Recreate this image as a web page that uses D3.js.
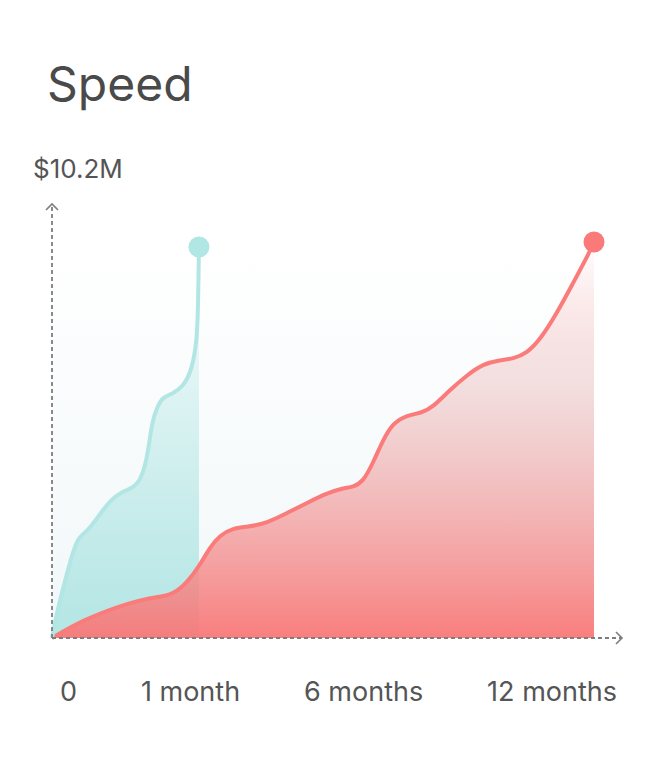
<!DOCTYPE html>
<html>
<head>
<meta charset="utf-8">
<script src="https://cdn.jsdelivr.net/npm/d3@7"></script>
<style>
  html, body { margin: 0; padding: 0; background: #fff; }
  svg { display: block; font-family: Inter, "Noto Sans", sans-serif; }
</style>
</head>
<body>
<svg id="chart" width="654" height="764"></svg>
<script>
// values in $M, x in weeks since start
const redWeeks = [0, 2.97, 6.24, 8.73, 10.36, 11.61, 12.95, 14.2, 15.16, 16.12, 17.37, 18.71, 20.63, 22.55, 24.47, 26.39, 27.92, 28.88, 29.84, 30.8, 31.76, 32.72, 34.06, 35.5, 36.55, 38.18, 39.82, 41.35, 42.98, 44.23, 45.57, 46.82, 48.45, 49.99, 51.33, 52];
const redValues = [0, 0.46, 0.8, 1.0, 1.06, 1.13, 1.42, 1.88, 2.34, 2.65, 2.83, 2.86, 2.96, 3.22, 3.48, 3.73, 3.86, 3.89, 4.02, 4.51, 5.1, 5.54, 5.74, 5.8, 5.95, 6.39, 6.77, 7.06, 7.16, 7.19, 7.34, 7.68, 8.37, 9.14, 9.81, 10.2];
const tealWeeks = [0, 0.38, 0.77, 1.44, 2.02, 2.49, 2.97, 3.45, 4.13, 4.89, 5.85, 6.72, 7.48, 7.96, 8.44, 8.92, 9.31, 9.59, 10.07, 10.65, 11.51, 12.57, 13.43, 13.91, 14.01, 14.08, 14.1];
const tealValues = [0, 0.52, 0.98, 1.67, 2.22, 2.55, 2.68, 2.78, 3.01, 3.3, 3.61, 3.76, 3.84, 3.92, 4.07, 4.4, 4.97, 5.54, 5.95, 6.21, 6.28, 6.47, 6.9, 7.68, 8.53, 9.74, 10.07];
const xLabels = ['0', '1 month', '6 months', '12 months'];
const title = 'Speed';
const maxValue = 10.2;

const svg = d3.select('#chart');
const margin = { top: 242, right: 60, bottom: 126, left: 52 };
const width = +svg.attr('width');
const height = +svg.attr('height');

const x = d3.scaleLinear()
  .domain([0, 52])
  .range([margin.left, width - margin.right]);
const y = d3.scaleLinear()
  .domain([0, maxValue])
  .range([height - margin.bottom, margin.top]);

const red = redWeeks.map((w, i) => ({ w, v: redValues[i] }));
const teal = tealWeeks.map((w, i) => ({ w, v: tealValues[i] }));

const defs = svg.append('defs');
function grad(id, stops) {
  const g = defs.append('linearGradient')
    .attr('id', id)
    .attr('x1', 0).attr('y1', 0).attr('x2', 0).attr('y2', 1);
  stops.forEach(s => g.append('stop')
    .attr('offset', s[0])
    .attr('stop-color', s[1])
    .attr('stop-opacity', s[2]));
}
grad('bgGrad', [[0, '#ffffff', 1], [1, '#f1f7f9', 1]]);
grad('redGrad', [[0, '#fb7b7b', 0], [0.35, '#e9b7b7', 0.45], [1, '#fa7575', 1]]);
grad('tealGrad', [[0, '#b3e6e4', 0.05], [1, '#b3e6e4', 1]]);

// backdrop
svg.append('rect')
  .attr('x', x(0))
  .attr('y', y(maxValue) + 6)
  .attr('width', x(52) - x(0))
  .attr('height', y(0) - y(maxValue) - 6)
  .attr('fill', 'url(#bgGrad)');

const curve = d3.curveBasis;
const area = d3.area()
  .x(d => x(d.w))
  .y0(y(0))
  .y1(d => y(d.v))
  .curve(curve);
const line = d3.line()
  .x(d => x(d.w))
  .y(d => y(d.v))
  .curve(curve);

svg.append('path')
  .datum(teal)
  .attr('d', area)
  .attr('fill', 'url(#tealGrad)');

svg.append('path')
  .datum(red)
  .attr('d', area)
  .attr('fill', 'url(#redGrad)')
  .attr('fill-opacity', 0.93);

svg.append('path')
  .datum(red)
  .attr('d', line)
  .attr('fill', 'none')
  .attr('stroke', '#fb7b7b')
  .attr('stroke-width', 4)
  .attr('stroke-linejoin', 'round');

svg.append('path')
  .datum(teal)
  .attr('d', line)
  .attr('fill', 'none')
  .attr('stroke', '#b2e6e4')
  .attr('stroke-width', 4)
  .attr('stroke-linejoin', 'round');

// axes
const axisColor = '#7d7d7d';
svg.append('line')
  .attr('x1', x(0)).attr('x2', x(0))
  .attr('y1', y(0)).attr('y2', y(maxValue) - 38)
  .attr('stroke', axisColor)
  .attr('stroke-width', 1.8)
  .attr('stroke-dasharray', '4,3');
svg.append('path')
  .attr('d', `M${x(0) - 6},${y(maxValue) - 32}L${x(0)},${y(maxValue) - 38}L${x(0) + 6},${y(maxValue) - 32}`)
  .attr('fill', 'none')
  .attr('stroke', axisColor)
  .attr('stroke-width', 1.6);

svg.append('line')
  .attr('x1', x(0)).attr('x2', x(52) + 28)
  .attr('y1', y(0)).attr('y2', y(0))
  .attr('stroke', axisColor)
  .attr('stroke-width', 1.8)
  .attr('stroke-dasharray', '4,3');
svg.append('path')
  .attr('d', `M${x(52) + 22},${y(0) - 6}L${x(52) + 28},${y(0)}L${x(52) + 22},${y(0) + 6}`)
  .attr('fill', 'none')
  .attr('stroke', axisColor)
  .attr('stroke-width', 1.6);

// end dots
svg.append('circle')
  .attr('cx', x(tealWeeks[tealWeeks.length - 1]))
  .attr('cy', y(tealValues[tealValues.length - 1]))
  .attr('r', 10.5)
  .attr('fill', '#b0e6e4');
svg.append('circle')
  .attr('cx', x(redWeeks[redWeeks.length - 1]))
  .attr('cy', y(redValues[redValues.length - 1]))
  .attr('r', 10.5)
  .attr('fill', '#fa7a7a');

// texts
svg.append('text')
  .attr('x', 47)
  .attr('y', 101)
  .attr('fill', '#4a4a4a')
  .style('font-size', '48px')
  .text(title);

svg.append('text')
  .attr('x', 33)
  .attr('y', 178)
  .attr('fill', '#555')
  .style('font-size', '26px')
  .text('$' + d3.format('.1f')(maxValue) + 'M');

// x labels spread edge to edge
const labels = svg.append('g')
  .attr('fill', '#555')
  .style('font-size', '27px')
  .selectAll('text')
  .data(xLabels)
  .enter().append('text')
  .attr('y', 701)
  .text(d => d);
const widths = labels.nodes().map(n => n.getComputedTextLength());
const left = 60, right = 617;
const gap = (right - left - d3.sum(widths)) / (xLabels.length - 1);
let cursor = left;
labels.attr('x', (d, i) => {
  const pos = cursor;
  cursor += widths[i] + gap;
  return pos;
});
</script>
</body>
</html>
